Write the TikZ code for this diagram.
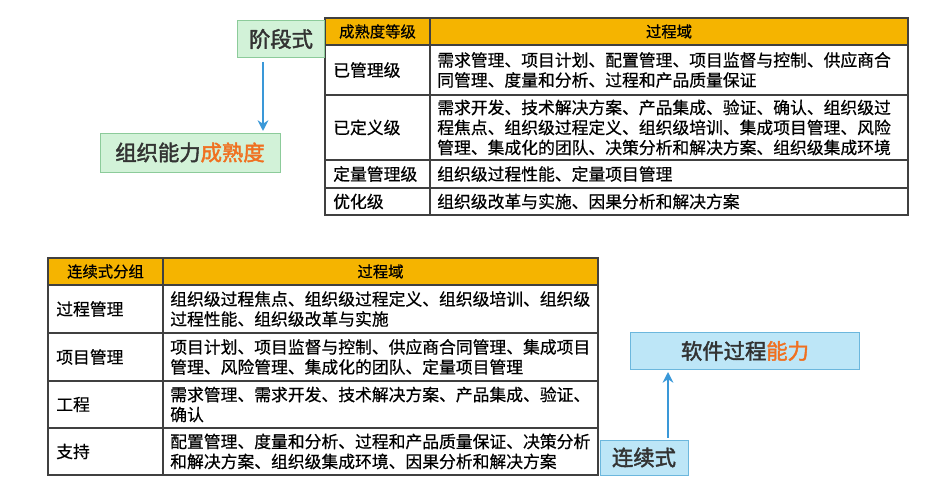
\documentclass[tikz,border=0pt]{standalone}
\usepackage{fontspec}
\setmainfont{Noto Sans CJK SC}[AutoFakeBold=2]
\newfontfamily\medfont{Noto Sans CJK SC}[FakeBold=0.6]
\usetikzlibrary{arrows.meta}
\definecolor{hdr}{HTML}{F5B400}
\definecolor{grn}{HTML}{D2F2D8}
\definecolor{grnb}{HTML}{8CCB9A}
\definecolor{blu}{HTML}{BDE6F7}
\definecolor{blub}{HTML}{6CB7DD}
\definecolor{arr}{HTML}{3A98D8}
\definecolor{org}{HTML}{F07020}
\tikzset{
 grid/.style={draw=black!75,line width=0.8pt},
 cell/.style={anchor=west,font=\medfont\fontsize{12.6}{15}\selectfont,align=left,inner sep=0pt},
 hcell/.style={anchor=center,font=\medfont\fontsize{11.5}{13}\selectfont,inner sep=0pt},
 lab/.style={font=\fontsize{16}{18}\selectfont\bfseries,text=black!80,inner sep=0pt},
 arrw/.style={draw=arr,line width=2pt,-{Stealth[length=8pt,width=8pt]}}
}
\begin{document}
\begin{tikzpicture}[x=0.75pt,y=-0.75pt]
\useasboundingbox (0,0) rectangle (926,488);
% top table
\fill[hdr] (325,18) rectangle (908,45);
\draw[grid] (325,18) rectangle (908,215);
\foreach \y in {45,95,160,188} \draw[grid] (325,\y) -- (908,\y);
\draw[grid] (430,18) -- (430,215);
\node[hcell] (th1) at (377.5,31.5) {成熟度等级};
\node[hcell] (th2) at (669,31.5) {过程域};
\node[cell] (a1) at (333,70) {已管理级};
\node[cell] (a2) at (333,127.5) {已定义级};
\node[cell] (a3) at (333,174) {定量管理级};
\node[cell] (a4) at (333,201.5) {优化级};
\node[cell] (b1) at (437,70) {需求管理、项目计划、配置管理、项目监督与控制、供应商合\\同管理、度量和分析、过程和产品质量保证};
\node[cell] (b2) at (437,127.5) {需求开发、技术解决方案、产品集成、验证、确认、组织级过\\程焦点、组织级过程定义、组织级培训、集成项目管理、风险\\管理、集成化的团队、决策分析和解决方案、组织级集成环境};
\node[cell] (b3) at (437,174) {组织级过程性能、定量项目管理};
\node[cell] (b4) at (437,201.5) {组织级改革与实施、因果分析和解决方案};
% bottom table
\fill[hdr] (48,258) rectangle (598,285);
\draw[grid] (48,258) rectangle (598,475);
\foreach \y in {285,333,381,428} \draw[grid] (48,\y) -- (598,\y);
\draw[grid] (163,258) -- (163,475);
\node[hcell] (sh1) at (105.5,271.5) {连续式分组};
\node[hcell] (sh2) at (380.5,271.5) {过程域};
\node[cell] (c1) at (56,309) {过程管理};
\node[cell] (c2) at (56,357) {项目管理};
\node[cell] (c3) at (56,404.5) {工程};
\node[cell] (c4) at (56,451.5) {支持};
\node[cell] (d1) at (170,309) {组织级过程焦点、组织级过程定义、组织级培训、组织级\\过程性能、组织级改革与实施};
\node[cell] (d2) at (170,357) {项目计划、项目监督与控制、供应商合同管理、集成项目\\管理、风险管理、集成化的团队、定量项目管理};
\node[cell] (d3) at (170,404.5) {需求管理、需求开发、技术解决方案、产品集成、验证、\\确认};
\node[cell] (d4) at (170,451.5) {配置管理、度量和分析、过程和产品质量保证、决策分析\\和解决方案、组织级集成环境、因果分析和解决方案};
% labels
\node[lab,draw=grnb,fill=grn,minimum width=65pt,minimum height=28pt] (jd) at (281,39) {阶段式};
\node[lab,draw=grnb,fill=grn,minimum width=135pt,minimum height=29pt] (zz) at (190,152.5) {组织能力\textcolor{org}{成熟度}};
\node[lab,draw=blub,fill=blu,minimum width=172pt,minimum height=28pt] (rj) at (745,351) {软件过程\textcolor{org}{能力}};
\node[lab,draw=blub,fill=blu,minimum width=66pt,minimum height=26pt] (lx) at (644,457.5) {连续式};
\draw[arrw] (263,62) -- (263,131);
\draw[arrw] (668,438) -- (668,372);
\end{tikzpicture}
\end{document}
